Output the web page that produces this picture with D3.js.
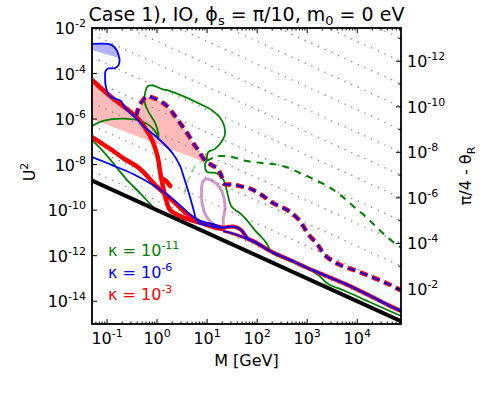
<!DOCTYPE html>
<html><head><meta charset="utf-8">
<script src="https://cdn.jsdelivr.net/npm/d3@7"></script>
<style>body{margin:0;background:#fff} text{font-family:"DejaVu Sans",sans-serif}</style>
</head><body>
<svg id="c" width="494" height="395"></svg>
<script>
// ---- axis / tick data ----
const xMajorTicks = [1e-1, 1e0, 1e1, 1e2, 1e3, 1e4];
const yMajorTicks = [1e-14, 1e-12, 1e-10, 1e-8, 1e-6, 1e-4, 1e-2];
const thetaMajorTicks = [1e-12, 1e-10, 1e-8, 1e-6, 1e-4, 1e-2];
const thetaMinorTicks = [1e-13, 1e-11, 1e-9, 1e-7, 1e-5, 1e-3, 1e-1];
const thetaLevels = [1e-13,1e-12,1e-11,1e-10,1e-9,1e-8,1e-7,1e-6,1e-5,1e-4,1e-3,1e-2,1e-1];
const thetaConst = 2.6e-11;    // U^2 * M * (pi/4 - theta_R)  [GeV]
const seesawConst = 1e-10;     // U^2 * M on the black line [GeV]
const Mrange = [0.05, 7.5e4];
const U2range = [1e-15, 1e-2];

// ---- curves: [log10 M/GeV, log10 U^2] ----
const lightBlueFill = [[-1.30,-2.70],[-0.98,-2.70],[-0.88,-2.79],[-0.81,-2.97],[-0.77,-3.19],[-0.76,-3.32],[-1.30,-2.97]];
const pinkFill = [[-1.30,-4.28],[-0.94,-4.99],[-0.68,-5.43],[-0.48,-5.78],[-0.42,-5.87],[-0.32,-5.29],[-0.21,-5.01],[-0.10,-5.05],[0.00,-5.14],[0.12,-5.29],[0.20,-5.43],[0.30,-5.69],[0.40,-6.00],[0.50,-6.30],[0.60,-6.61],[0.72,-7.05],[0.82,-7.36],[0.92,-7.71],[1.00,-7.93],[-1.30,-6.00]];
const blueUpper = [[-1.30,-2.70],[-0.98,-2.70],[-0.88,-2.79],[-0.81,-2.97],[-0.77,-3.19],[-0.75,-3.41],[-0.77,-3.63],[-0.84,-3.76],[-0.98,-3.78],[-1.03,-3.89],[-1.04,-4.15],[-1.03,-4.50],[-1.00,-4.77],[-0.94,-4.99],[-0.82,-5.12],[-0.72,-5.21],[-0.66,-5.43],[-0.54,-5.73],[-0.40,-6.00],[-0.28,-6.30],[-0.08,-6.66],[0.12,-7.05],[0.32,-7.53],[0.46,-8.06],[0.54,-8.59],[0.64,-9.29],[0.74,-10.08],[0.80,-10.52],[0.96,-10.65],[1.16,-10.74],[1.32,-10.78]];
const blueLower = [[-1.30,-7.67],[-0.90,-8.02],[-0.48,-8.41],[-0.08,-8.90],[0.26,-9.42],[0.52,-9.91],[0.70,-10.26],[0.86,-10.48],[1.12,-10.61],[1.32,-10.78]];
const bundle = [[1.32,-10.78],[1.52,-10.72],[1.68,-10.87],[1.80,-11.22],[1.96,-11.40],[2.30,-11.84],[2.66,-12.19],[3.10,-12.63],[3.76,-13.24],[4.30,-13.81],[4.62,-14.17],[4.88,-14.43]];
const bundleLower = [[1.32,-10.92],[1.60,-11.09],[1.92,-11.38],[2.30,-11.84]];
const redUpper = [[-1.30,-4.28],[-0.94,-4.99],[-0.68,-5.43],[-0.48,-5.78],[-0.34,-6.08],[-0.24,-6.39],[-0.14,-6.74],[-0.04,-7.27],[0.02,-7.75],[0.06,-8.32],[0.12,-8.98],[0.18,-9.55],[0.26,-9.99],[0.46,-10.26],[0.66,-10.43],[0.96,-10.61],[1.16,-10.70],[1.32,-10.78]];
const redLower = [[-1.30,-6.79],[-0.94,-7.31],[-0.68,-7.71],[-0.34,-8.19],[0.00,-8.98],[0.32,-9.60],[0.60,-10.17],[0.86,-10.52],[1.12,-10.74],[1.32,-10.83]];
const redBlob = [[0.08,-8.59],[0.18,-8.72],[0.26,-8.94]];
const dashedRB = [[-0.42,-5.87],[-0.38,-5.56],[-0.32,-5.29],[-0.21,-5.01],[-0.10,-5.05],[0.00,-5.14],[0.12,-5.29],[0.20,-5.43],[0.30,-5.69],[0.40,-6.00],[0.50,-6.30],[0.60,-6.61],[0.72,-7.05],[0.82,-7.36],[0.92,-7.71],[1.00,-7.89],[1.12,-8.06],[1.20,-8.15],[1.26,-8.37],[1.30,-8.59],[1.34,-8.85],[1.52,-8.87],[1.72,-8.98],[1.88,-9.07],[2.06,-9.29],[2.32,-9.69],[2.60,-9.99],[2.82,-10.39],[2.92,-10.70],[3.02,-11.05],[3.20,-11.49],[3.36,-11.99],[3.62,-12.37],[3.96,-12.65],[4.30,-12.94],[4.62,-13.24],[4.88,-13.53]];
const greenDashed = [[0.98,-7.84],[1.12,-7.71],[1.26,-7.62],[1.52,-7.68],[1.79,-7.84],[2.06,-7.92],[2.36,-7.99],[2.62,-8.14],[2.86,-8.37],[3.12,-8.63],[3.40,-8.94],[3.66,-9.33],[3.92,-9.82],[4.20,-10.35],[4.40,-10.78],[4.62,-11.22],[4.88,-11.66]];
const greenFaint = [[0.98,-7.80],[0.86,-7.89],[0.76,-8.06],[0.66,-8.50],[0.58,-8.94],[0.54,-9.33]];
const greenMain = [[-1.30,-6.30],[-1.08,-6.08],[-0.68,-5.98],[-0.34,-6.08],[-0.14,-6.30],[-0.02,-6.61],[0.02,-6.88],[0.02,-6.61],[-0.04,-6.17],[-0.16,-5.73],[-0.24,-5.34],[-0.24,-4.86],[-0.18,-4.55],[-0.08,-4.53],[0.10,-4.68],[0.26,-4.77],[0.52,-4.99],[0.86,-5.34],[1.12,-5.65],[1.30,-6.08],[1.36,-6.61],[1.32,-6.88],[1.16,-7.31],[1.02,-7.45],[0.99,-7.80],[0.96,-7.97],[0.99,-8.31],[1.19,-8.38],[1.33,-8.68],[1.39,-9.12],[1.49,-9.85],[1.66,-10.14],[1.79,-10.43],[1.96,-10.90],[2.09,-11.19],[2.19,-11.46],[2.30,-11.88],[2.66,-12.23],[2.96,-12.50],[3.22,-12.85],[3.42,-13.24],[3.76,-13.55],[4.16,-13.95],[4.56,-14.34],[4.88,-14.65]];
const greenLower = [[-1.30,-6.92],[-1.10,-7.36],[-0.88,-7.93],[-0.60,-8.68],[-0.34,-9.25],[-0.14,-9.73],[-0.04,-9.95]];
const purpleLoop = [[0.99,-8.63],[1.19,-8.85],[1.30,-9.20],[1.36,-9.86],[1.32,-10.43],[1.32,-10.87],[1.14,-10.65],[0.98,-10.26],[0.90,-9.69],[0.89,-9.03],[0.92,-8.72]];
const legendItems = [{k:"-11", c:"#008000"},{k:"-6", c:"#0000ff"},{k:"-3", c:"#ff0000"}];

// ---- layout ----
const L=92, R=401, T=28, B=324;
const svg = d3.select("#c");
const x = d3.scaleLog().domain(Mrange).range([L,R]);
const y = d3.scaleLog().domain(U2range).range([B,T]);
const yR = d3.scaleLog().domain([thetaConst/(U2range[1]*Mrange[1]), thetaConst/(U2range[0]*Mrange[1])]).range([T,B]);

svg.append("defs").append("clipPath").attr("id","clip").append("rect")
  .attr("x",L).attr("y",T).attr("width",R-L).attr("height",B-T);
const g = svg.append("g").attr("clip-path","url(#clip)");

const lin = d3.line().x(d=>x(10**d[0])).y(d=>y(10**d[1]));
const smooth = d3.line().x(d=>x(10**d[0])).y(d=>y(10**d[1])).curve(d3.curveCatmullRom.alpha(0.5));
const smoothClosed = d3.line().x(d=>x(10**d[0])).y(d=>y(10**d[1])).curve(d3.curveCatmullRomClosed.alpha(0.5));

// fills
g.append("path").attr("d", lin(lightBlueFill)+"Z").attr("fill","rgba(0,0,255,0.3)");
g.append("path").attr("d", lin(pinkFill)+"Z").attr("fill","rgba(255,0,0,0.27)");

// dotted theta lines
thetaLevels.forEach(th=>{
  const pts = Mrange.map(M=>[M, thetaConst/(th*M)]);
  g.append("line").attr("x1",x(pts[0][0])).attr("y1",y(pts[0][1])).attr("x2",x(pts[1][0])).attr("y2",y(pts[1][1]))
   .attr("stroke","#888").attr("stroke-width",1.3).attr("stroke-dasharray","1.3,6").attr("stroke-linecap","butt");
});

function path(data, color, w, opts={}) {
  const p = g.append("path").attr("d", (opts.closed?smoothClosed:smooth)(data)).attr("fill","none")
    .attr("stroke",color).attr("stroke-width",w).attr("stroke-linejoin","round");
  if (opts.dash) p.attr("stroke-dasharray",opts.dash);
  if (opts.cap) p.attr("stroke-linecap",opts.cap);
  return p;
}

path(purpleLoop,"rgba(128,0,128,0.4)",3,{closed:true});
path(greenFaint,"rgba(0,128,0,0.3)",2,{dash:"7,5"});
path(greenLower,"#008000",1.8);
path(greenMain,"#008000",1.8);
path(greenDashed,"#008000",2,{dash:"7,6"});
path(redUpper,"#ff0000",4.5);
path(redLower,"#ff0000",4.5);
path(redBlob,"#ff0000",4.5,{cap:"round"});
path(bundleLower,"#ff0000",3);
path(bundle,"#ff0000",4);
path(blueLower,"#0000ff",1.8);
path(blueUpper,"#0000ff",1.8);
path(bundleLower,"#0000ff",1.5);
path(bundle,"#0000ff",2);
path(dashedRB,"#ff0000",4.5,{dash:"8,5"});
path(dashedRB,"#0000ff",2,{dash:"8,5"});

// black seesaw line
const bl = Mrange.map(M=>[M, seesawConst/M]);
g.append("line").attr("x1",x(bl[0][0])).attr("y1",y(bl[0][1])).attr("x2",x(bl[1][0])).attr("y2",y(bl[1][1]))
  .attr("stroke","#000").attr("stroke-width",4);

// frame
svg.append("rect").attr("x",L).attr("y",T).attr("width",R-L).attr("height",B-T)
  .attr("fill","none").attr("stroke","#000").attr("stroke-width",1.8);

// ticks
const tk = svg.append("g").attr("stroke","#000").attr("stroke-width",1);
const allX = x.ticks().filter(v=>v>=Mrange[0] && v<=Mrange[1]);
allX.forEach(v=>{
  const major = Math.abs(Math.log10(v)-Math.round(Math.log10(v)))<1e-9;
  const len = major?5:2.5;
  tk.append("line").attr("x1",x(v)).attr("x2",x(v)).attr("y1",B).attr("y2",B-len);
  tk.append("line").attr("x1",x(v)).attr("x2",x(v)).attr("y1",T).attr("y2",T+len);
});
yMajorTicks.forEach(v=>{
  tk.append("line").attr("x1",L).attr("x2",L+5).attr("y1",y(v)).attr("y2",y(v));
});
thetaMajorTicks.forEach(v=>{
  tk.append("line").attr("x1",R).attr("x2",R-5).attr("y1",yR(v)).attr("y2",yR(v));
});
thetaMinorTicks.forEach(v=>{
  tk.append("line").attr("x1",R).attr("x2",R-2.5).attr("y1",yR(v)).attr("y2",yR(v));
});

function pow10(sel, v) {
  const e = Math.round(Math.log10(v));
  sel.append("tspan").text("10");
  sel.append("tspan").attr("font-size",11).attr("dy",-7).text(e<0?"-"+(-e):String(e));
}
xMajorTicks.forEach(v=>{
  const t = svg.append("text").attr("x",x(v)).attr("y",344).attr("text-anchor","middle").attr("font-size",16);
  pow10(t,v);
});
yMajorTicks.forEach(v=>{
  const t = svg.append("text").attr("x",86).attr("y",y(v)+6).attr("text-anchor","end").attr("font-size",16);
  pow10(t,v);
});
thetaMajorTicks.forEach(v=>{
  const t = svg.append("text").attr("x",407).attr("y",yR(v)+6).attr("text-anchor","start").attr("font-size",16);
  pow10(t,v);
});

// axis labels
svg.append("text").attr("x",(L+R)/2).attr("y",366).attr("text-anchor","middle").attr("font-size",16).text("M [GeV]");
const ul = svg.append("text").attr("transform","translate(35,172) rotate(-90)").attr("text-anchor","middle").attr("font-size",16);
ul.append("tspan").text("U");
ul.append("tspan").attr("font-size",11).attr("dy",-7).text("2");
const rl = svg.append("text").attr("transform","translate(471,176) rotate(-90)").attr("text-anchor","middle").attr("font-size",16);
rl.append("tspan").text("π/4 - θ");
rl.append("tspan").attr("font-size",11).attr("dy",4).text("R");

// title
const tt = svg.append("text").attr("x",(L+R)/2).attr("y",21).attr("text-anchor","middle").attr("font-size",19);
tt.append("tspan").text("Case 1), IO, ϕ");
tt.append("tspan").attr("font-size",13).attr("dy",4).text("s");
tt.append("tspan").attr("dy",-4).text(" = π/10, m");
tt.append("tspan").attr("font-size",13).attr("dy",4).text("0");
tt.append("tspan").attr("dy",-4).text(" = 0 eV");

// legend
legendItems.forEach((d,i)=>{
  const t = svg.append("text").attr("x",108).attr("y",256+i*22).attr("font-size",16).attr("fill",d.c);
  t.append("tspan").text("κ = 10");
  t.append("tspan").attr("font-size",11).attr("dy",-7).text(d.k);
});
</script>
</body></html>
